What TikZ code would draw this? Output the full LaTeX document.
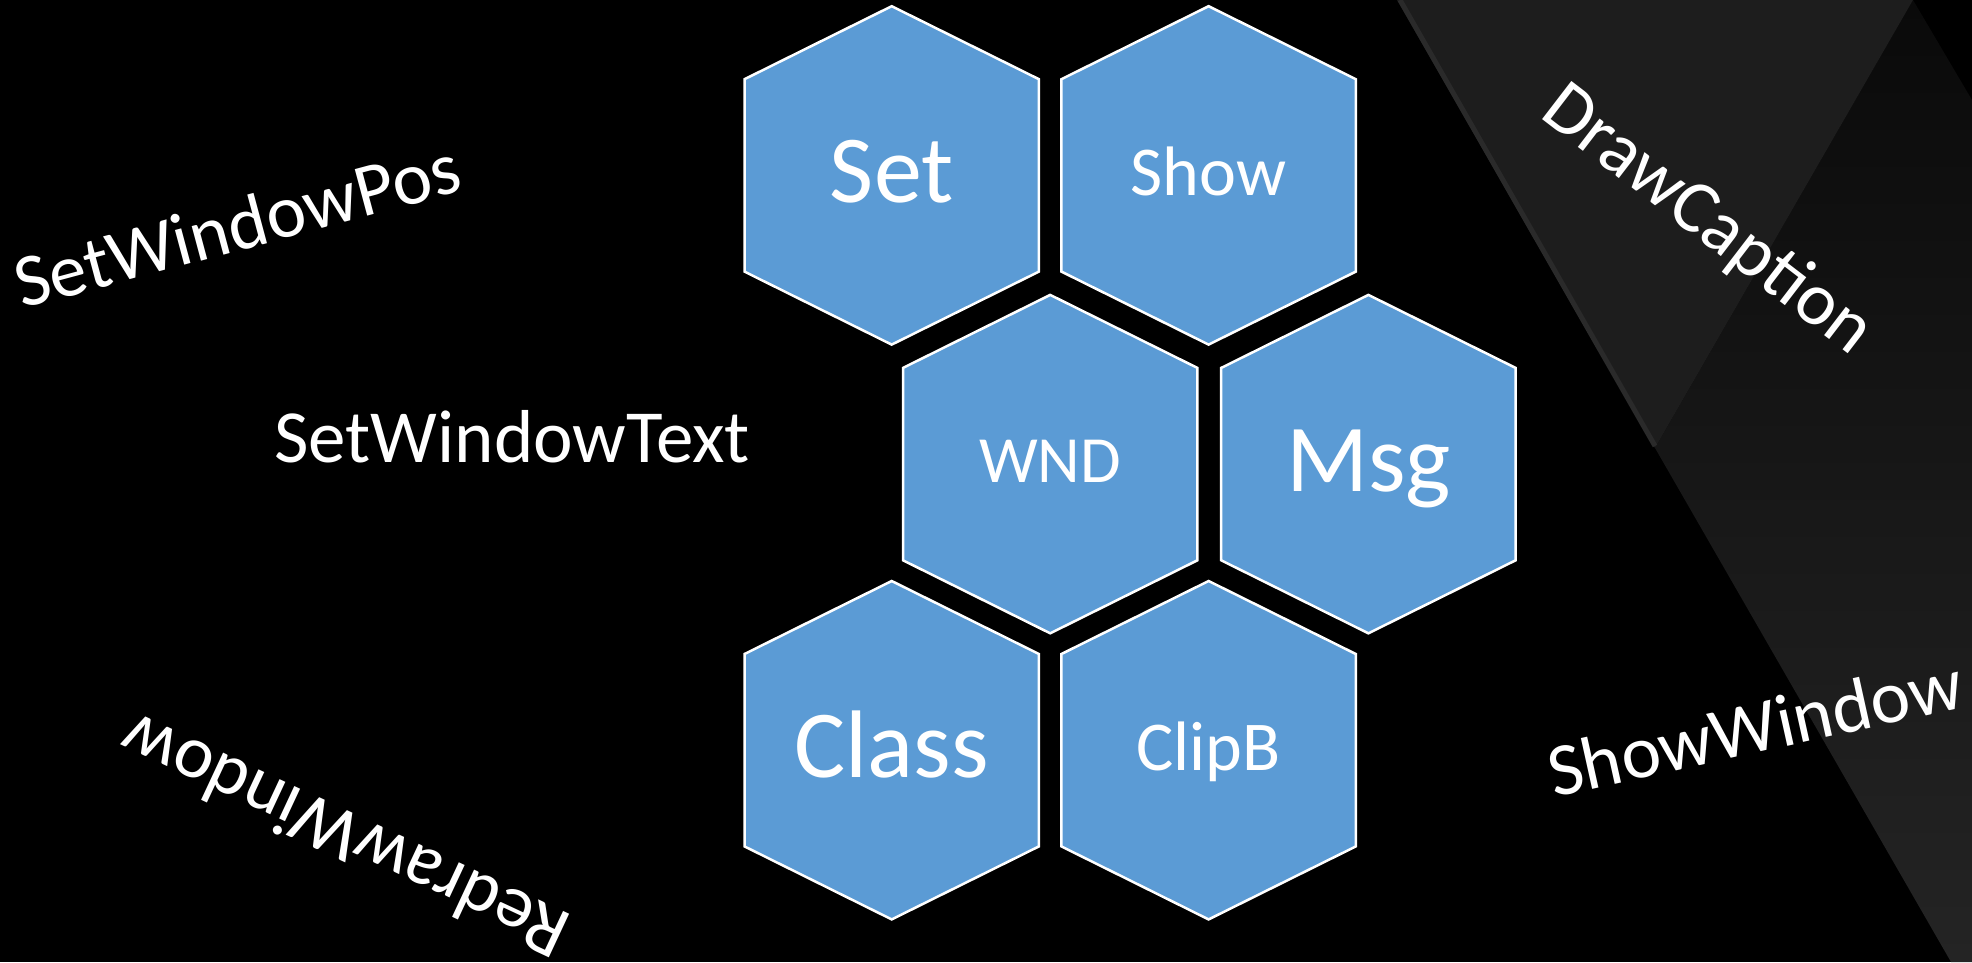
\documentclass[tikz,border=0pt]{standalone}
\usepackage{fontspec}
\setmainfont{Carlito}
\begin{document}
\begin{tikzpicture}[x=1pt,y=-1pt,
  hexcell/.style={fill=hexblue, draw=white, line width=2.5pt, line join=miter},
  biglabel/.style={anchor=base, text=white, inner sep=0pt, font=\fontsize{96}{100}\selectfont},
  smalllabel/.style={anchor=base, text=white, inner sep=0pt, font=\fontsize{70}{74}\selectfont},
  sidelabel/.style={anchor=base west, text=white, inner sep=0pt, font=\fontsize{75}{80}\selectfont},
  hexa/.pic={\draw[hexcell] (0,-169.2) -- (147.2,-96.2) -- (147.2,96.2) -- (0,169.2)
              -- (-147.2,96.2) -- (-147.2,-96.2) -- cycle;}]
\definecolor{hexblue}{HTML}{5B9BD5}
\definecolor{bandlight}{HTML}{1D1D1D}
\definecolor{bandedge}{HTML}{2A2A2A}
\definecolor{banddark}{HTML}{0A0A0A}
\definecolor{bandlow}{HTML}{242424}

% canvas
\fill[black] (0,0) rectangle (1972,962);
\useasboundingbox (0,0) rectangle (1972,962);

% diagonal band on the right
\begin{scope}
  \clip (1913,0) -- (1972,100) -- (1972,962) -- (1951,962) -- (1655,448) -- cycle;
  \shade[top color=banddark, bottom color=bandlow] (1600,0) rectangle (1972,962);
\end{scope}
\fill[bandlight] (1397,0) -- (1913,0) -- (1655,448) -- cycle;
\draw[bandedge, line width=5pt] (1400,0) -- (1655,446);

% honeycomb
\pic at (891.7,175.4) {hexa};
\pic at (1208.6,175.4) {hexa};
\pic at (1050.2,464.1) {hexa};
\pic at (1368.4,464.1) {hexa};
\pic at (891.7,750.2) {hexa};
\pic at (1208.6,750.2) {hexa};

\node[biglabel]   (set)   at (891.7,202)   {Set};
\node[smalllabel] (show)  at (1208.6,195)  {Show};
\node[smalllabel, font=\fontsize{66}{70}\selectfont] (wnd) at (1050.2,482) {WND};
\node[biglabel]   (msg)   at (1368.4,491)  {Msg};
\node[biglabel]   (class) at (891.7,777)   {Class};
\node[smalllabel] (clipb) at (1208.6,770)  {ClipB};

% API names around the honeycomb
\node[sidelabel] (setwindowtext) at (274,462) {SetWindowText};
\node[sidelabel, rotate=15]   (setwindowpos) at (22,309)  {SetWindowPos};
\node[sidelabel, rotate=-37.5] (drawcaption) at (1538,116) {DrawCaption};
\node[sidelabel, rotate=12.5] (showwindow)   at (1554,798) {ShowWindow};
\node[sidelabel, rotate=155]  (redrawwindow) at (575,917)  {RedrawWindow};
\end{tikzpicture}
\end{document}
